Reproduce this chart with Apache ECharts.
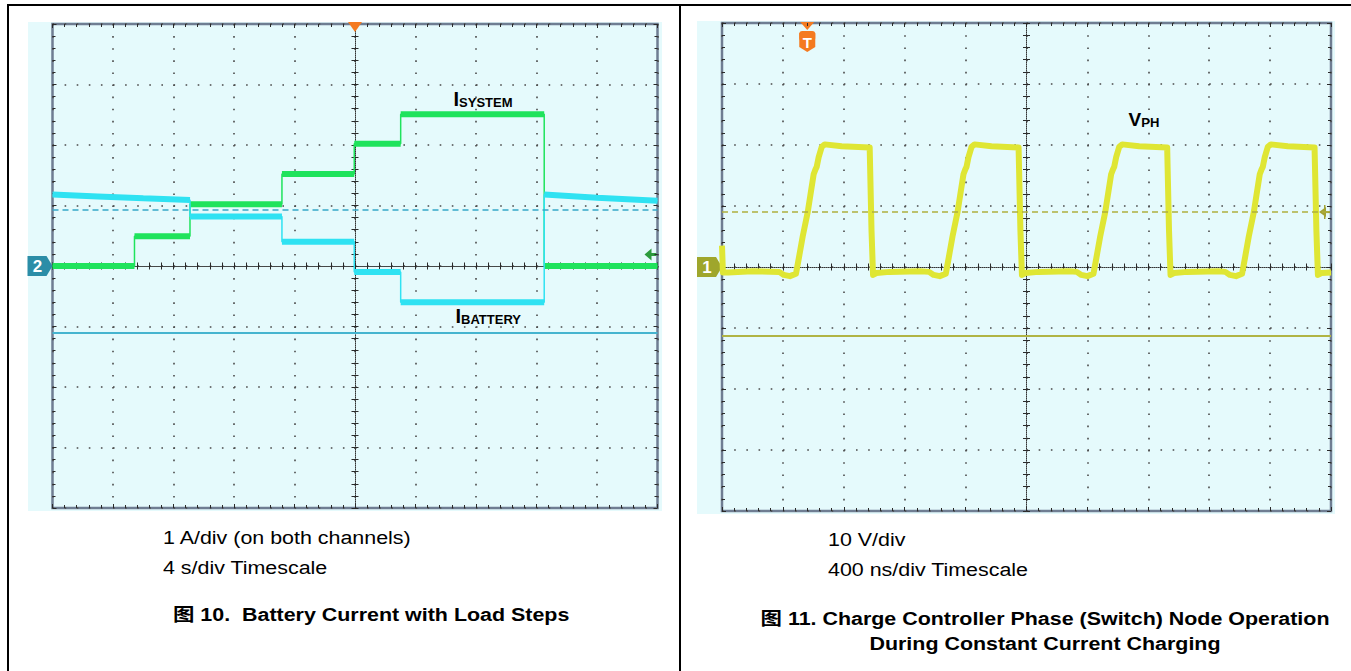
<!DOCTYPE html>
<html><head><meta charset="utf-8">
<script src="https://cdn.jsdelivr.net/npm/echarts/dist/echarts.min.js"></script>
<style>
html,body{margin:0;padding:0;background:#fff;}
#page{position:relative;width:1351px;height:671px;overflow:hidden;font-family:"Liberation Sans","Noto Sans CJK SC",Arial,sans-serif;color:#000;}
.bl{position:absolute;background:#000;}
.bg{position:absolute;background:#e5fafc;}
.cap{position:absolute;font-size:18px;line-height:20px;white-space:nowrap;transform:scaleX(1.19);transform-origin:0 50%;}
.ttl{position:absolute;font-size:18px;line-height:25px;font-weight:bold;white-space:nowrap;text-align:center;transform:scaleX(1.19);}
#chart{position:absolute;left:0;top:0;width:1351px;height:671px;}
</style></head>
<body><div id="page">
<div class="bl" style="left:7px;top:4px;width:1344px;height:2px"></div>
<div class="bl" style="left:7px;top:4px;width:1.5px;height:667px"></div>
<div class="bl" style="left:679px;top:4px;width:1.5px;height:667px"></div>
<div class="bg" style="left:28px;top:22px;width:634px;height:489px"></div>
<div class="bg" style="left:697px;top:21px;width:638px;height:493px"></div>
<div id="chart"></div>
<div class="cap" style="left:163px;top:528px">1 A/div (on both channels)</div>
<div class="cap" style="left:163px;top:558px">4 s/div Timescale</div>
<div class="ttl" style="left:173px;top:603px;transform-origin:0 50%;text-align:left">图 10.&nbsp; Battery Current with Load Steps</div>
<div class="cap" style="left:828px;top:530px">10 V/div</div>
<div class="cap" style="left:828px;top:560px">400 ns/div Timescale</div>
<div class="ttl" style="left:700px;top:607px;width:690px;transform-origin:345px 50%">图 11. Charge Controller Phase (Switch) Node Operation<br>During Constant Current Charging</div>
</div>
<script>
// ---------------- data ----------------
// Left scope: time (s, relative to screen centre) vs current (A)
const sysPts = [[-20,0],[-14.58,0],[-14.58,0.49],[-10.91,0.49],[-10.91,1.02],[-4.83,1.02],[-4.83,1.52],[-0.05,1.52],[-0.05,2.02],[3.02,2.02],[3.02,2.51],[12.51,2.51],[12.51,0],[20,0]];
const batPts = [[-20,1.18],[-17,1.15],[-14,1.12],[-10.91,1.09],[-10.91,0.82],[-4.83,0.82],[-4.83,0.40],[-0.05,0.40],[-0.05,-0.10],[3.02,-0.10],[3.02,-0.60],[12.51,-0.60],[12.51,1.18],[16,1.13],[20,1.08]];
const leftRefDashed = 0.93;
const leftRefSolid = -1.10;
const leftArrowLevel = 0.19;
const leftX = {min:-20, max:20, interval:4};
const leftY = {min:-4, max:4, interval:1};
const labelSys = [6.48, 2.76];
const labelBat = [6.61, -0.83];
const triggerLeftT = 0;

// Right scope: time (ns, relative to screen centre) vs V_PH (V)
const vphPts = [
 [-2000,3.5],[-1994,-0.9],[-1960,-0.9],[-1800,-0.7],
 [-1624,-0.8],[-1594,-1.3],[-1554,-1.5],[-1514,-1.1],
 [-1495,1.5],[-1470,5.0],[-1437,9.0],[-1398,15.2],[-1386,16.0],[-1378,16.4],[-1365,18.0],[-1345,19.7],[-1325,20.1],
 [-1214,19.8],[-1030,19.6],[-1018,6.0],[-1008,-1.3],[-985,-1.0],[-900,-0.8],[-700,-0.7],
 [-640,-0.8],[-610,-1.3],[-570,-1.5],[-530,-1.1],
 [-511,1.5],[-486,5.0],[-453,9.0],[-414,15.2],[-402,16.0],[-394,16.4],[-381,18.0],[-361,19.7],[-341,20.1],
 [-230,19.8],[-52,19.6],[-40,6.0],[-30,-1.3],[-7,-1.0],[78,-0.8],[280,-0.7],
 [330,-0.8],[360,-1.3],[400,-1.5],[440,-1.1],
 [459,1.5],[484,5.0],[517,9.0],[556,15.2],[568,16.0],[576,16.4],[589,18.0],[609,19.7],[629,20.1],
 [740,19.8],[924,19.6],[936,6.0],[946,-1.3],[969,-1.0],[1054,-0.8],[1260,-0.7],
 [1306,-0.8],[1336,-1.3],[1376,-1.5],[1416,-1.1],
 [1435,1.5],[1460,5.0],[1493,9.0],[1532,15.2],[1544,16.0],[1552,16.4],[1565,18.0],[1585,19.7],[1605,20.1],
 [1716,19.8],[1892,19.6],[1904,6.0],[1914,-1.3],[1937,-1.0],[2000,-0.9]
];
const rightRefDashed = 9.0;
const rightRefSolid = -11.3;
const rightX = {min:-2000, max:2000, interval:400};
const rightY = {min:-40, max:40, interval:10};
const labelVph = [667, 24.1];
const triggerRightT = -1440;

// ---------------- layout ----------------
const G = [
  {left:52.5, top:24, width:605, height:484},
  {left:722, top:23, width:609, height:488}
];

function axisSet(dim, gi, rng, period){
  const isX = dim === 'x';
  const pA = isX ? 'bottom' : 'left', pB = isX ? 'top' : 'right';
  const base = {type:'value', gridIndex:gi, min:rng.min, max:rng.max, interval:rng.interval,
    axisLabel:{show:false}, silent:true, splitArea:{show:false}};
  const tickIn = {show:true, inside:true, length:4, lineStyle:{color:'#2a2a2a', width:1}};
  const minIn = {show:true, splitNumber:5, length:3, lineStyle:{color:'#2a2a2a', width:1}};
  const tickOut = {show:true, inside:false, length:3.5, lineStyle:{color:'#2a2a2a', width:1}};
  const minOut = {show:true, splitNumber:5, length:3.5, lineStyle:{color:'#2a2a2a', width:1}};
  return [
    Object.assign({}, base, {position:pA, axisLine:{show:false, onZero:false}, axisTick:tickIn, minorTick:minIn,
      splitLine:{show:true, lineStyle:{color:'#4a4a4a', width:1.6, type:[1.6, period-1.6]}}}),
    Object.assign({}, base, {position:pB, axisLine:{show:false, onZero:false}, axisTick:tickIn, minorTick:minIn, splitLine:{show:false}}),
    Object.assign({}, base, {position:pA, axisLine:{show:true, onZero:true, lineStyle:{color:'#333', width:1, type:[1,1]}}, axisTick:tickOut, minorTick:minOut, splitLine:{show:false}}),
    Object.assign({}, base, {position:pB, axisLine:{show:false, onZero:true}, axisTick:tickOut, minorTick:minOut, splitLine:{show:false}})
  ];
}

function plateaus(pts){
  const out = [];
  for (let i = 0; i < pts.length; i++){
    if (i > 0 && pts[i][0] === pts[i-1][0]) out.push([pts[i][0], '-']);
    out.push(pts[i]);
  }
  return out;
}

const subRich = (big, small) => ({
  a:{fontSize:big, fontWeight:'bold', color:'#000', lineHeight:big, fontFamily:'Liberation Sans'},
  b:{fontSize:small, fontWeight:'bold', color:'#000', lineHeight:small, verticalAlign:'bottom', padding:[big*0.5,0,0,0], fontFamily:'Liberation Sans'}
});
function labelPoint(coord, main, sub, big, small){
  return {coord:coord, symbol:'rect', symbolSize:[1,1], itemStyle:{color:'rgba(0,0,0,0)'},
    label:{show:true, position:'right', distance:0, formatter:'{a|'+main+'}{b|'+sub+'}', rich:subRich(big, small)}};
}

const GREEN = '#1fe35c', CYAN = '#2fe2f2', YEL = '#dfe634';

const option = {
  animation:false,
  backgroundColor:'transparent',
  grid: G.map(g => Object.assign({show:true, borderColor:'#6f7d92', borderWidth:2.5, backgroundColor:'transparent'}, g)),
  xAxis: [].concat(axisSet('x',0,leftX,G[0].height/40), axisSet('x',1,rightX,G[1].height/40)),
  yAxis: [].concat(axisSet('y',0,leftY,G[0].width/50), axisSet('y',1,rightY,G[1].width/50)),
  series: [
    {type:'line', xAxisIndex:0, yAxisIndex:0, data:sysPts, showSymbol:false, symbol:'none', lineStyle:{color:GREEN, width:1.5}, z:3,
     markPoint:{silent:true, data:[labelPoint(labelSys,'I','SYSTEM',20,13)]}},
    {type:'line', xAxisIndex:0, yAxisIndex:0, data:plateaus(sysPts), connectNulls:false, showSymbol:false, symbol:'none', lineStyle:{color:GREEN, width:6}, z:3},
    {type:'line', xAxisIndex:0, yAxisIndex:0, data:batPts, showSymbol:false, symbol:'none', lineStyle:{color:CYAN, width:1.5}, z:4,
     markPoint:{silent:true, data:[labelPoint(labelBat,'I','BATTERY',20,13)]},
     markLine:{silent:true, symbol:'none', label:{show:false}, data:[
       {yAxis:leftRefDashed, lineStyle:{color:'#36a8c8', width:1.5, type:[6,4]}},
       {yAxis:leftRefSolid, lineStyle:{color:'#45b4cf', width:2, type:'solid'}}]}},
    {type:'line', xAxisIndex:0, yAxisIndex:0, data:plateaus(batPts), connectNulls:false, showSymbol:false, symbol:'none', lineStyle:{color:CYAN, width:6}, z:4},
    {type:'line', xAxisIndex:4, yAxisIndex:4, data:vphPts, showSymbol:false, symbol:'none', lineStyle:{color:YEL, width:6, join:'round'}, z:3,
     markPoint:{silent:true, data:[labelPoint(labelVph,'V','PH',19,13)]},
     markLine:{silent:true, symbol:'none', label:{show:false}, data:[
       {yAxis:rightRefDashed, lineStyle:{color:'#aeb03e', width:1.5, type:[6,4]}},
       {yAxis:rightRefSolid, lineStyle:{color:'#b0b444', width:2, type:'solid'}}]}}
  ]
};

const chart = echarts.init(document.getElementById('chart'), null, {renderer:'svg'});
chart.setOption(option);

// decorations (channel markers, trigger markers, level arrows)
const pL = (x,y) => chart.convertToPixel({xAxisIndex:0, yAxisIndex:0}, [x,y]);
const pR = (x,y) => chart.convertToPixel({xAxisIndex:4, yAxisIndex:4}, [x,y]);
const c2 = pL(leftX.min, 0), c1 = pR(rightX.min, 0);
const tL = pL(triggerLeftT, leftY.max), tR = pR(triggerRightT, rightY.max);
const aL = pL(leftX.max, leftArrowLevel), aR = pR(rightX.max, rightRefDashed);
function chanMarker(p, color, txt){
  return {type:'group', x:p[0], y:p[1], children:[
    {type:'polygon', shape:{points:[[-25,-10],[-6,-10],[0,0],[-6,10],[-25,10]]}, style:{fill:color}},
    {type:'text', x:-15, y:0, style:{text:txt, fill:'#fff', font:'bold 17px "Liberation Sans"', align:'center', verticalAlign:'middle'}}
  ]};
}
chart.setOption({graphic:[
  chanMarker(c2, '#2b8da7', '2'),
  chanMarker(c1, '#9fa62c', '1'),
  {type:'polygon', z:100, shape:{points:[[tL[0]-7,tL[1]-2],[tL[0]+7,tL[1]-2],[tL[0],tL[1]+8]]}, style:{fill:'#f47a20'}},
  {type:'group', x:tR[0], y:tR[1], z:100, children:[
    {type:'polygon', shape:{points:[[-7,-1],[7,-1],[0,7]]}, style:{fill:'#f47a20'}},
    {type:'polygon', shape:{points:[[-8,10],[8,10],[8,24],[0,29],[-8,24]]}, style:{fill:'#f47a20'}},
    {type:'rect', shape:{x:-8,y:8,width:16,height:10,r:3}, style:{fill:'#f47a20'}},
    {type:'text', x:0, y:19, style:{text:'T', fill:'#fff', font:'bold 15px "Liberation Sans"', align:'center', verticalAlign:'middle'}}
  ]},
  {type:'group', x:aL[0], y:aL[1], children:[
    {type:'polygon', shape:{points:[[-13,0],[-6,-6],[-6,6]]}, style:{fill:'#2d9b3d'}},
    {type:'rect', shape:{x:-7,y:-1.5,width:6,height:3}, style:{fill:'#2d9b3d'}}
  ]},
  {type:'group', x:aR[0], y:aR[1], children:[
    {type:'polygon', shape:{points:[[-12,0],[-5,-5],[-5,5]]}, style:{fill:'#a2a234'}},
    {type:'rect', shape:{x:-6,y:-1,width:5,height:2}, style:{fill:'#a2a234'}},
    {type:'rect', shape:{x:-7,y:-7,width:1.5,height:14}, style:{fill:'#a2a234'}}
  ]}
]});
</script>
</body></html>
